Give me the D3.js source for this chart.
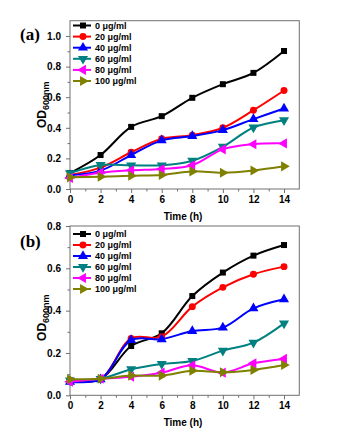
<html>
<head>
<script src="https://d3js.org/d3.v7.min.js" charset="utf-8"></script>
<style>
  body { margin: 0; background: #fff; }
  text { font-family: Arial, "Liberation Sans", sans-serif; }
  .frame { fill: none; stroke: #707070; stroke-width: 1; }
  .axis path { display: none; }
  .axis line { stroke: #707070; }
  .axis text { font-size: 10px; font-weight: bold; fill: #000; }
  .series { fill: none; stroke-width: 2; }
</style>
</head>
<body>
<div id="viz"></div>
<script>
// ---- data ----
const times = [0, 2, 4, 6, 8, 10, 12, 14];
const doses = ["0 μg/ml", "20 μg/ml", "40 μg/ml", "60 μg/ml", "80 μg/ml", "100 μg/ml"];
const colors = ["#000000", "#ff0000", "#0000ff", "#008080", "#ff00ff", "#808000"];

// panel (a)
const a0   = [0.104, 0.222, 0.406, 0.476, 0.596, 0.685, 0.759, 0.902];
const a20  = [0.092, 0.140, 0.240, 0.328, 0.352, 0.400, 0.515, 0.644];
const a40  = [0.090, 0.120, 0.222, 0.318, 0.346, 0.385, 0.457, 0.526];
const a60  = [0.104, 0.157, 0.155, 0.155, 0.185, 0.276, 0.402, 0.450];
const a80  = [0.072, 0.106, 0.122, 0.131, 0.155, 0.259, 0.293, 0.298];
const a100 = [0.076, 0.080, 0.087, 0.092, 0.115, 0.106, 0.121, 0.148];

// panel (b)
const b0   = [0.068, 0.076, 0.233, 0.293, 0.469, 0.580, 0.660, 0.710];
const b20  = [0.070, 0.076, 0.269, 0.277, 0.419, 0.510, 0.572, 0.608];
const b40  = [0.064, 0.076, 0.261, 0.265, 0.304, 0.320, 0.411, 0.454];
const b60  = [0.070, 0.078, 0.123, 0.148, 0.162, 0.211, 0.249, 0.340];
const b80  = [0.064, 0.078, 0.088, 0.107, 0.142, 0.107, 0.151, 0.172];
const b100 = [0.076, 0.078, 0.093, 0.093, 0.116, 0.109, 0.120, 0.143];

const xTicks = [0, 2, 4, 6, 8, 10, 12, 14];
const yTicksA = [0.0, 0.2, 0.4, 0.6, 0.8, 1.0];
const yTicksB = [0.0, 0.2, 0.4, 0.6, 0.8];

// ---- drawing ----
const svg = d3.select("#viz").append("svg").attr("width", 340).attr("height", 432);

const shapes = [
  { type: d3.symbolSquare,   size: 36, rot: 0 },
  { type: d3.symbolCircle,   size: 38, rot: 0 },
  { type: d3.symbolTriangle, size: 44, rot: 0 },
  { type: d3.symbolTriangle, size: 44, rot: 180 },
  { type: d3.symbolTriangle, size: 44, rot: -90 },
  { type: d3.symbolTriangle, size: 44, rot: 90 }
];

function drawPanel(opt) {
  const x = d3.scaleLinear().domain([0, 15]).range([70, 299.3]);
  const y = d3.scaleLinear().domain([0, opt.yMax]).range([opt.bottom, opt.top]);
  const g = svg.append("g");

  // minor ticks
  g.append("g").attr("class", "axis").attr("transform", `translate(0,${opt.bottom})`)
    .call(d3.axisBottom(x).tickValues(d3.range(1, 15, 2)).tickSize(2.5).tickFormat(""));
  g.append("g").attr("class", "axis").attr("transform", "translate(70,0)")
    .call(d3.axisLeft(y).tickValues(d3.range(0.1, opt.yMax, 0.2)).tickSize(2.5).tickFormat(""));

  // major ticks
  g.append("g").attr("class", "axis").attr("transform", `translate(0,${opt.bottom})`)
    .call(d3.axisBottom(x).tickValues(xTicks).tickSize(4).tickPadding(3).tickFormat(d3.format("d")));
  g.append("g").attr("class", "axis").attr("transform", "translate(70,0)")
    .call(d3.axisLeft(y).tickValues(opt.yTicks).tickSize(4).tickPadding(5).tickFormat(d3.format(".1f")));

  g.append("rect").attr("class", "frame")
    .attr("x", 70).attr("y", opt.top)
    .attr("width", 299.3 - 70).attr("height", opt.bottom - opt.top);

  // series
  const line = d3.line().x((d, i) => x(times[i])).y(d => y(d)).curve(d3.curveCatmullRom.alpha(0.5));
  opt.series.forEach((vals, k) => {
    g.append("path").attr("class", "series").attr("d", line(vals)).attr("stroke", colors[k]);
    g.selectAll(null).data(vals).join("path")
      .attr("d", d3.symbol().type(shapes[k].type).size(shapes[k].size))
      .attr("transform", (d, i) => `translate(${x(times[i])},${y(d)}) rotate(${shapes[k].rot})`)
      .attr("fill", colors[k]);
  });

  // legend
  doses.forEach((label, k) => {
    const ly = opt.legendTop + k * opt.legendStep;
    g.append("line").attr("x1", 73).attr("x2", 91).attr("y1", ly).attr("y2", ly)
      .attr("stroke", colors[k]).attr("stroke-width", 2);
    g.append("path")
      .attr("d", d3.symbol().type(shapes[k].type).size(shapes[k].size))
      .attr("transform", `translate(83,${ly}) rotate(${shapes[k].rot})`)
      .attr("fill", colors[k]);
    g.append("text").attr("x", 95).attr("y", ly).attr("dy", "0.35em")
      .style("font-size", "9px").style("font-weight", "bold").text(label);
  });

  // axis titles
  g.append("text").attr("x", 183).attr("y", opt.bottom + 31)
    .attr("text-anchor", "middle").style("font-size", "10px").style("font-weight", "bold")
    .text("Time (h)");

  const yl = g.append("text")
    .attr("transform", `translate(46,${(opt.top + opt.bottom) / 2 + opt.labelShift}) rotate(-90)`)
    .attr("text-anchor", "middle").style("font-weight", "bold");
  yl.append("tspan").style("font-size", "12px").text("OD");
  yl.append("tspan").style("font-size", "9px").attr("dy", "3").text("600nm");

  g.append("text").attr("x", 20).attr("y", opt.tagY)
    .style("font-family", "'Times New Roman', 'Liberation Serif', serif")
    .style("font-size", "17px").style("font-weight", "bold").text(opt.tag);
}

drawPanel({
  top: 20.7, bottom: 189, yMax: 1.1, yTicks: yTicksA,
  series: [a0, a20, a40, a60, a80, a100],
  legendTop: 25.5, legendStep: 11.1, labelShift: 0, tag: "(a)", tagY: 40
});

drawPanel({
  top: 226, bottom: 395.3, yMax: 0.8, yTicks: yTicksB,
  series: [b0, b20, b40, b60, b80, b100],
  legendTop: 234, legendStep: 11, labelShift: 7, tag: "(b)", tagY: 247
});
</script>
</body>
</html>
